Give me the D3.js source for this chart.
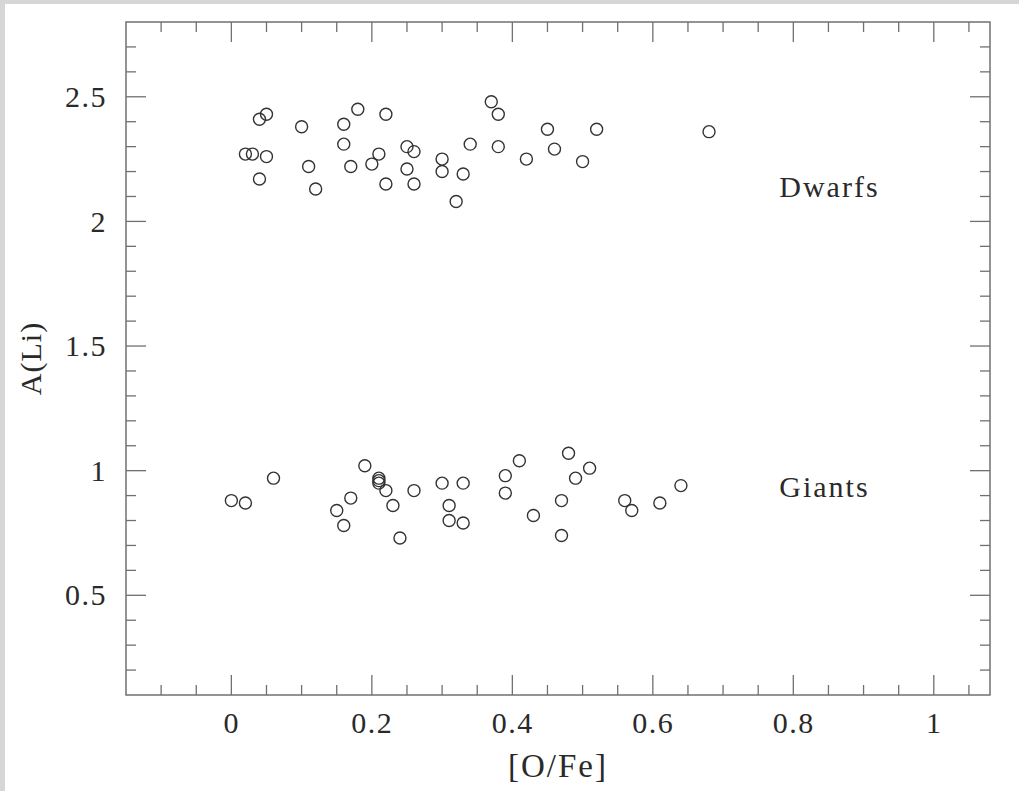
<!DOCTYPE html>
<html>
<head>
<meta charset="utf-8">
<script src="https://cdn.jsdelivr.net/npm/d3@7"></script>
<style>
  html, body { margin: 0; padding: 0; background: #d8d8d8; }
  svg { display: block; }
</style>
</head>
<body>
<div id="chart"></div>
<script>
// [O/Fe] vs A(Li)
const dwarfsOFe = [0.02, 0.03, 0.04, 0.05, 0.05, 0.04, 0.10, 0.11, 0.12, 0.16, 0.16, 0.18, 0.17,
  0.22, 0.21, 0.20, 0.22, 0.25, 0.26, 0.25, 0.26, 0.30, 0.30, 0.33, 0.32, 0.34,
  0.37, 0.38, 0.38, 0.42, 0.45, 0.46, 0.50, 0.52, 0.68];
const dwarfsALi = [2.27, 2.27, 2.41, 2.43, 2.26, 2.17, 2.38, 2.22, 2.13, 2.39, 2.31, 2.45, 2.22,
  2.43, 2.27, 2.23, 2.15, 2.30, 2.28, 2.21, 2.15, 2.25, 2.20, 2.19, 2.08, 2.31,
  2.48, 2.43, 2.30, 2.25, 2.37, 2.29, 2.24, 2.37, 2.36];

const giantsOFe = [0.00, 0.02, 0.06, 0.15, 0.16, 0.17, 0.19, 0.21, 0.21, 0.21, 0.22, 0.23, 0.24,
  0.26, 0.30, 0.31, 0.31, 0.33, 0.33, 0.39, 0.39, 0.41, 0.43, 0.48, 0.49, 0.51,
  0.47, 0.47, 0.56, 0.57, 0.61, 0.64];
const giantsALi = [0.88, 0.87, 0.97, 0.84, 0.78, 0.89, 1.02, 0.97, 0.96, 0.95, 0.92, 0.86, 0.73,
  0.92, 0.95, 0.86, 0.80, 0.79, 0.95, 0.98, 0.91, 1.04, 0.82, 1.07, 0.97, 1.01,
  0.88, 0.74, 0.88, 0.84, 0.87, 0.94];

const xTicks = [0, 0.2, 0.4, 0.6, 0.8, 1];
const yTicks = [0.5, 1, 1.5, 2, 2.5];

const W = 1019, H = 791;
const margins = { top: 22, right: 29, bottom: 96, left: 126 };
const font = '"Liberation Serif", "DejaVu Serif", serif';
const frameColor = '#707070';
const textColor = '#2a2a2a';

const svg = d3.select('#chart').append('svg')
  .attr('width', W)
  .attr('height', H);

// textured grey edge, white page
svg.append('rect').attr('width', W).attr('height', H).attr('fill', '#d6d6d6');
svg.append('rect').attr('x', 5).attr('y', 4).attr('width', W - 5).attr('height', H - 4).attr('fill', '#fff');

const x = d3.scaleLinear().domain([-0.15, 1.08]).range([margins.left, W - margins.right]);
const y = d3.scaleLinear().domain([0.1, 2.8]).range([H - margins.bottom, margins.top]);

const x0 = x.range()[0], x1 = x.range()[1];
const y0 = y.range()[0], y1 = y.range()[1];

// minor + major ticks on all four sides
const xMinor = d3.range(-0.1, 1.06, 0.05).map(v => +v.toFixed(2));
const yMinor = d3.range(0.2, 2.75, 0.1).map(v => +v.toFixed(2));
const isMajor = (v, step) => Math.abs(v / step - Math.round(v / step)) < 1e-6;

const ticks = svg.append('g').attr('stroke', frameColor).attr('stroke-width', 1.3);
xMinor.forEach(v => {
  const len = isMajor(v, 0.2) ? 20 : 10;
  ticks.append('line').attr('x1', x(v)).attr('x2', x(v)).attr('y1', y0).attr('y2', y0 - len);
  ticks.append('line').attr('x1', x(v)).attr('x2', x(v)).attr('y1', y1).attr('y2', y1 + len);
});
yMinor.forEach(v => {
  const len = isMajor(v, 0.5) ? 20 : 10;
  ticks.append('line').attr('y1', y(v)).attr('y2', y(v)).attr('x1', x0).attr('x2', x0 + len);
  ticks.append('line').attr('y1', y(v)).attr('y2', y(v)).attr('x1', x1).attr('x2', x1 - len);
});

// frame
svg.append('rect')
  .attr('x', x0).attr('y', y1)
  .attr('width', x1 - x0).attr('height', y0 - y1)
  .attr('fill', 'none')
  .attr('stroke', frameColor)
  .attr('stroke-width', 1.5);

// tick labels via axes, with the axis lines hidden
const xAxis = svg.append('g')
  .attr('transform', 'translate(0,' + y0 + ')')
  .call(d3.axisBottom(x).tickValues(xTicks).tickSize(0).tickPadding(17).tickFormat(d3.format('')));
const yAxis = svg.append('g')
  .attr('transform', 'translate(' + x0 + ',0)')
  .call(d3.axisLeft(y).tickValues(yTicks).tickSize(0).tickPadding(19).tickFormat(d3.format('')));
[xAxis, yAxis].forEach(a => {
  a.select('.domain').remove();
  a.selectAll('text')
    .attr('fill', textColor)
    .style('font-family', font)
    .style('font-size', '30px')
    .style('letter-spacing', '1.5px');
});

// axis titles
svg.append('text')
  .attr('x', (x0 + x1) / 2).attr('y', 777)
  .attr('text-anchor', 'middle')
  .attr('fill', textColor)
  .style('font-family', font).style('font-size', '33px').style('letter-spacing', '2px')
  .text('[O/Fe]');
svg.append('text')
  .attr('transform', 'translate(41,' + ((y0 + y1) / 2) + ') rotate(-90)')
  .attr('text-anchor', 'middle')
  .attr('fill', textColor)
  .style('font-family', font).style('font-size', '30px').style('letter-spacing', '1px')
  .text('A(Li)');

// group labels
svg.append('text').attr('x', x(0.78)).attr('y', y(2.098))
  .attr('fill', textColor)
  .style('font-family', font).style('font-size', '30px').style('letter-spacing', '2px')
  .text('Dwarfs');
svg.append('text').attr('x', x(0.78)).attr('y', y(0.895))
  .attr('fill', textColor)
  .style('font-family', font).style('font-size', '30px').style('letter-spacing', '2px')
  .text('Giants');

// points
const pts = dwarfsOFe.map((v, i) => [v, dwarfsALi[i]])
  .concat(giantsOFe.map((v, i) => [v, giantsALi[i]]));
svg.append('g').selectAll('circle').data(pts).enter()
  .append('circle')
  .attr('cx', d => x(d[0]))
  .attr('cy', d => y(d[1]))
  .attr('r', 6)
  .attr('fill', 'none')
  .attr('stroke', '#333')
  .attr('stroke-width', 1.4);
</script>
</body>
</html>
